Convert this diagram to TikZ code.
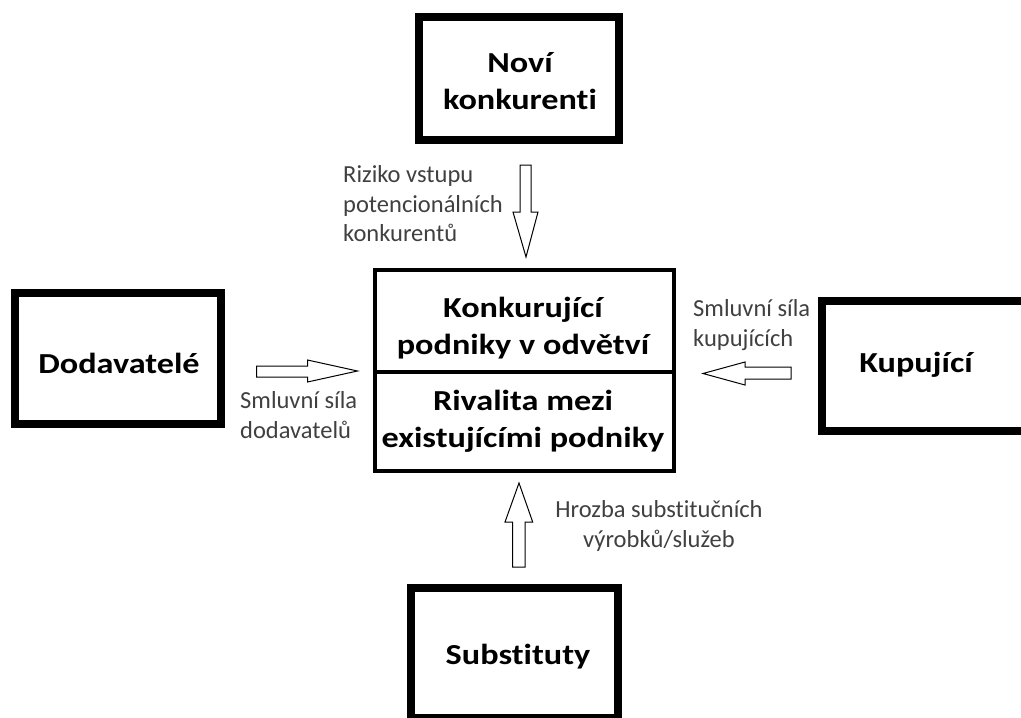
\documentclass[tikz,border=0pt]{standalone}
\usepackage{fontspec}
\setmainfont{Carlito}[Ligatures=NoCommon]
\newfontfamily\boxfont{Carlito}[FakeStretch=1.18, Ligatures=NoCommon]
\tikzset{
  thickbox/.style={draw, line width=8pt, inner sep=0pt, fill=white},
  midbox/.style={draw, line width=4pt, inner sep=0pt},
  maintext/.style={font={\boxfont\bfseries\fontsize{29}{37}\selectfont}, align=center, inner sep=0pt, text=black},
  smalltext/.style={font={\fontsize{24.5}{29.5}\selectfont}, text=black!75, inner sep=0pt},
  blockarrow/.style={draw, line width=1pt, fill=white, line join=miter}
}
\begin{document}
\begin{tikzpicture}[x=1pt,y=-1pt]
\useasboundingbox (0,0) rectangle (1021,718);
\clip (0,0) rectangle (1021,718);
% outer boxes
\node[thickbox, minimum width=200pt, minimum height=123pt] (nk) at (519,78.5) {};
\node[thickbox, minimum width=206.3pt, minimum height=131.3pt] (dod) at (117.9,358.7) {};
\node[thickbox, minimum width=240pt, minimum height=130.3pt] (kup) at (942.3,365.85) {};
\node[thickbox, minimum width=207pt, minimum height=129.7pt] (sub) at (514.2,653.15) {};
% centre box
\node[midbox, minimum width=299pt, minimum height=201pt] (core) at (524.5,370.5) {};
\coordinate (div) at (524.5,372);
\draw[line width=4pt] (core.west |- div) -- (core.east |- div);
% box texts
\node[maintext] (nktext) at (520,81.5) {Noví\\konkurenti};
\node[maintext] (dodtext) at (119,363) {Dodavatelé};
\node[maintext] (kuptext) at (916,365) {Kupující};
\node[maintext] (subtext) at (518,657) {Substituty};
\node[maintext] (coretop) at (523,328.5) {Konkurující\\podniky v odvětví};
\node[maintext] (corebot) at (523,421.5) {Rivalita mezi\\existujícími podniky};
% block arrows
\draw[blockarrow] (520,165) -- (531,165) -- (531,212) -- (538,212) -- (526,257) -- (513,212) -- (520,212) -- cycle;
\draw[blockarrow] (512.7,567) -- (525,567) -- (525,522) -- (532.7,522) -- (519,483) -- (505,522) -- (512.7,522) -- cycle;
\draw[blockarrow] (256.7,366) -- (307.5,366) -- (307.5,360) -- (357.5,371) -- (307.5,382) -- (307.5,377) -- (256.7,377) -- cycle;
\draw[blockarrow] (791,367) -- (745,367) -- (745,362) -- (703,373.5) -- (745,385) -- (745,379) -- (791,379) -- cycle;
% arrow labels
\node[smalltext, align=left, anchor=west] (lbltop) at (343,204) {Riziko vstupu\\potencionálních\\konkurentů};
\node[smalltext, align=left, anchor=west] (lblleft) at (240,415) {Smluvní síla\\dodavatelů};
\node[smalltext, align=left, anchor=west] (lblright) at (693,325) {Smluvní síla\\kupujících};
\node[smalltext, align=center] (lblbot) at (659,526) {Hrozba substitučních\\výrobků/služeb};
\end{tikzpicture}
\end{document}
